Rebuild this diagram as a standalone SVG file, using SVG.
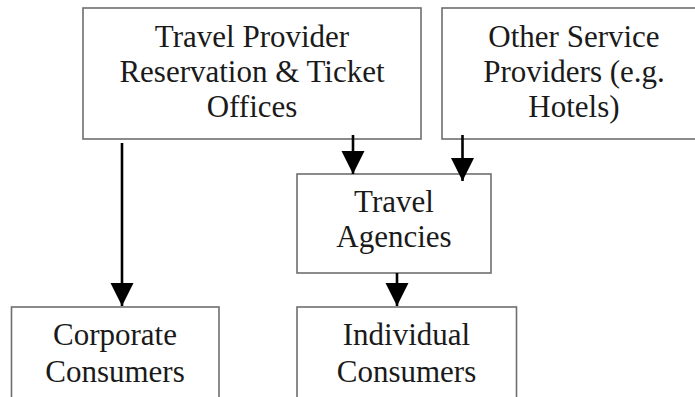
<svg xmlns="http://www.w3.org/2000/svg" width="695" height="397" viewBox="0 0 695 397">
<style>
.box{fill:#fff;stroke:#6e6e6e;stroke-width:1.6}
.t{font-family:"Liberation Serif","Times New Roman",serif;font-size:31px;fill:#1a1a1a;text-anchor:middle}
.c{stroke:#000;stroke-width:2.6;fill:none;marker-end:url(#ah)}
</style>
<defs>
<marker id="ah" markerUnits="userSpaceOnUse" markerWidth="24" markerHeight="26" refX="23" refY="11.5" orient="auto">
<polygon points="0,0 23,11.5 0,23" fill="#000"/>
</marker>
</defs>
<rect width="695" height="397" fill="#fff"/>
<g id="travel-provider">
<rect class="box" x="83" y="8" width="338" height="131"/>
<text class="t" x="252" y="47">Travel Provider</text>
<text class="t" x="252" y="82">Reservation &amp; Ticket</text>
<text class="t" x="252" y="117">Offices</text>
</g>
<g id="other-service">
<rect class="box" x="442" y="8" width="270" height="131"/>
<text class="t" x="574" y="47">Other Service</text>
<text class="t" x="574" y="82">Providers (e.g.</text>
<text class="t" x="574" y="117">Hotels)</text>
</g>
<g id="travel-agencies">
<rect class="box" x="297" y="174" width="194" height="99"/>
<text class="t" x="394" y="212">Travel</text>
<text class="t" x="394" y="247">Agencies</text>
</g>
<g id="corporate">
<rect class="box" x="11.5" y="307" width="207.5" height="100"/>
<text class="t" x="115" y="345">Corporate</text>
<text class="t" x="115" y="382">Consumers</text>
</g>
<g id="individual">
<rect class="box" x="297" y="307" width="219.5" height="100"/>
<text class="t" x="406.5" y="345">Individual</text>
<text class="t" x="406.5" y="382">Consumers</text>
</g>
<g id="connectors">
<line class="c" x1="122" y1="143" x2="122" y2="306"/>
<line class="c" x1="353" y1="135" x2="353" y2="174"/>
<line class="c" x1="462.5" y1="135" x2="462.5" y2="181"/>
<line class="c" x1="397" y1="273" x2="397" y2="306"/>
</g>
</svg>
